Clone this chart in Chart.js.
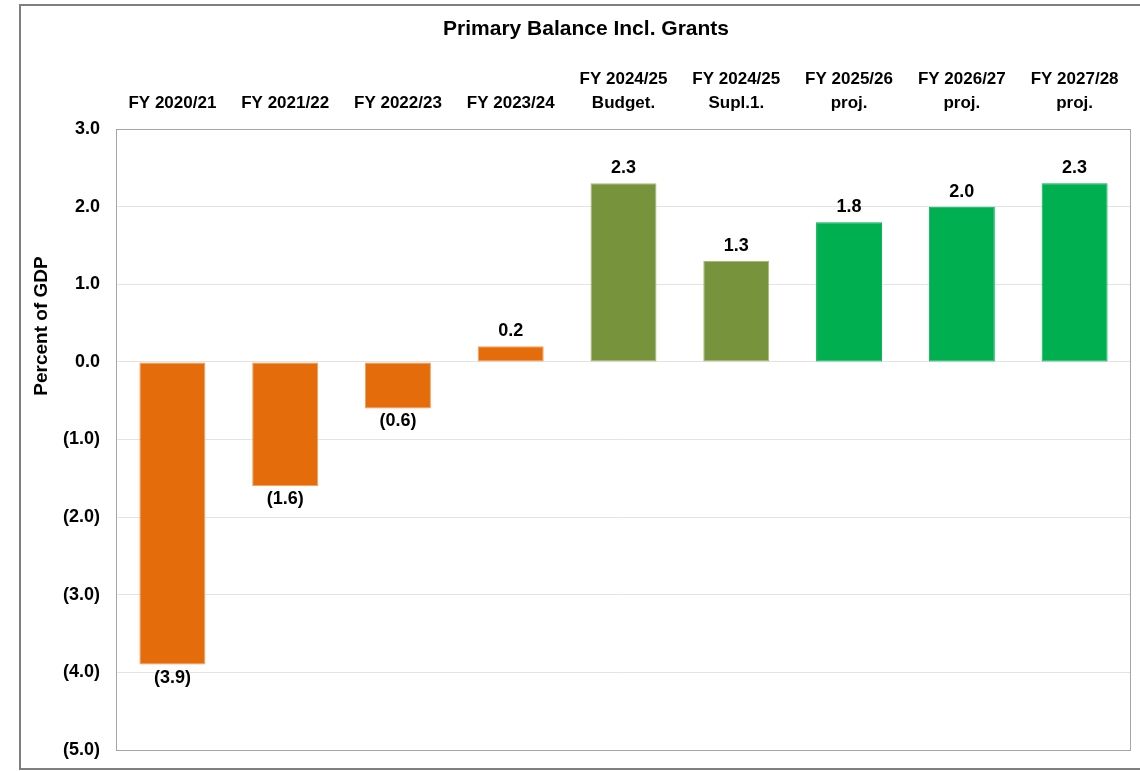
<!DOCTYPE html>
<html>
<head>
<meta charset="utf-8">
<script src="https://cdn.jsdelivr.net/npm/chart.js@4/dist/chart.umd.min.js"></script>
<style>
  html, body { margin: 0; padding: 0; background: #fff; }
  #wrap { width: 1140px; height: 771px; position: relative; }
</style>
</head>
<body>
<div id="wrap"><canvas id="c" width="1140" height="771"></canvas></div>
<script>
const chartTitle = "Primary Balance Incl. Grants";
const yAxisTitle = "Percent of GDP";
const categories = [
  ["FY 2020/21"],
  ["FY 2021/22"],
  ["FY 2022/23"],
  ["FY 2023/24"],
  ["FY 2024/25", "Budget."],
  ["FY 2024/25", "Supl.1."],
  ["FY 2025/26", "proj."],
  ["FY 2026/27", "proj."],
  ["FY 2027/28", "proj."]
];
const values = [-3.9, -1.6, -0.6, 0.2, 2.3, 1.3, 1.8, 2.0, 2.3];
const barColors = ["#E46C0A", "#E46C0A", "#E46C0A", "#E46C0A", "#77933C", "#77933C", "#00B050", "#00B050", "#00B050"];
const barBorders = ["#F2A05E", "#F2A05E", "#F2A05E", "#F2A05E", "#A5BC74", "#A5BC74", "#00B050", "#00B050", "#00B050"];
const yMin = -5, yMax = 3, yStep = 1;

const FONT = "'Liberation Sans', Arial, sans-serif";

function fmt(v) {
  const s = Math.abs(v).toFixed(1);
  return v < 0 ? "(" + s + ")" : s;
}

const decor = {
  id: 'decor',
  beforeDraw(chart) {
    const ctx = chart.ctx;
    ctx.save();
    ctx.fillStyle = '#fff';
    ctx.fillRect(0, 0, chart.width, chart.height);
    ctx.restore();
  },
  afterDraw(chart) {
    const ctx = chart.ctx;
    const a = chart.chartArea;
    ctx.save();
    // outer frame
    ctx.strokeStyle = '#7F7F7F';
    ctx.lineWidth = 2;
    ctx.strokeRect(20, 5, 1130, 764);
    // plot area frame
    ctx.strokeStyle = '#A6A6A6';
    ctx.lineWidth = 1;
    ctx.strokeRect(Math.round(a.left) + 0.5, Math.round(a.top) + 0.5, Math.round(a.right - a.left) - 1, Math.round(a.bottom - a.top));
    // title
    ctx.fillStyle = '#000';
    ctx.font = "bold 21px " + FONT;
    ctx.textAlign = 'center';
    ctx.textBaseline = 'middle';
    ctx.fillText(chartTitle, 586, 29);
    // y axis title
    ctx.save();
    ctx.translate(42, 326);
    ctx.rotate(-Math.PI / 2);
    ctx.font = "bold 19px " + FONT;
    ctx.fillText(yAxisTitle, 0, 0);
    ctx.restore();
    // data labels
    const meta = chart.getDatasetMeta(0);
    ctx.font = "bold 18px " + FONT;
    meta.data.forEach((bar, i) => {
      const v = values[i];
      const y = v >= 0 ? bar.y - 15 : bar.y + 13;
      ctx.fillText(fmt(v), bar.x, y);
    });
    ctx.restore();
  }
};

new Chart(document.getElementById('c'), {
  type: 'bar',
  data: {
    labels: categories,
    datasets: [{
      data: values,
      backgroundColor: barColors,
      borderColor: barBorders,
      borderWidth: 1,
      borderSkipped: false,
      barPercentage: 0.585,
      categoryPercentage: 1
    }]
  },
  options: {
    responsive: false,
    animation: false,
    devicePixelRatio: 1,
    layout: { padding: { left: 20, top: 5, right: 9, bottom: 21 } },
    plugins: {
      legend: { display: false },
      title: { display: false },
      tooltip: { enabled: false }
    },
    scales: {
      x: {
        position: 'top',
        grid: { display: false, drawTicks: false },
        border: { display: false },
        ticks: {
          color: '#000',
          font: { family: FONT, size: 17, weight: 'bold', lineHeight: 1.4 },
          padding: 14,
          maxRotation: 0,
          autoSkip: false
        },
        afterFit(scale) { scale.height = 124; scale.paddingLeft = 0; scale.paddingRight = 0; }
      },
      y: {
        min: yMin,
        max: yMax,
        grid: { color: '#E3E3E3', drawTicks: false, lineWidth: 1 },
        border: { display: false },
        ticks: {
          stepSize: yStep,
          color: '#000',
          font: { family: FONT, size: 18, weight: 'bold' },
          padding: 16,
          callback: (v) => fmt(v)
        },
        afterFit(scale) { scale.width = 96; scale.paddingTop = 0; scale.paddingBottom = 0; }
      }
    }
  },
  plugins: [decor]
});
</script>
</body>
</html>
